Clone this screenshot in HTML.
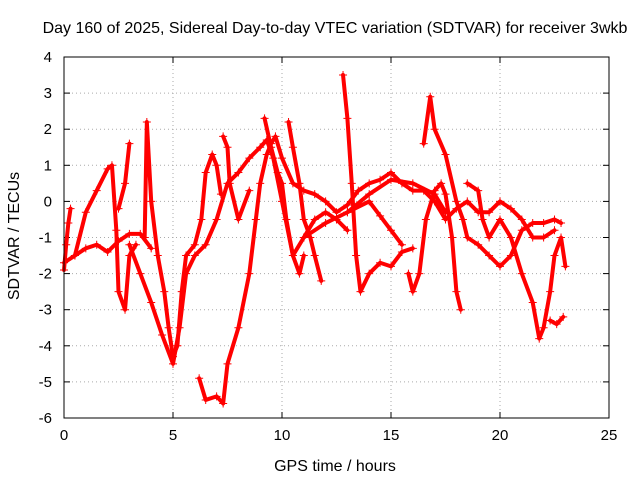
<!DOCTYPE html>
<html><head><meta charset="utf-8"><style>
body{margin:0;background:#fff;font-family:"Liberation Sans",sans-serif}
svg text{font-family:"Liberation Sans",sans-serif;font-size:15px;fill:#000}
svg text.big{font-size:16px}
</style></head><body>
<svg id="chart" width="640" height="480" xmlns="http://www.w3.org/2000/svg">
<text class="big" x="335" y="33" text-anchor="middle">Day 160 of 2025, Sidereal Day-to-day VTEC variation (SDTVAR) for receiver 3wkb</text>
<text class="big" x="335" y="471" text-anchor="middle">GPS time / hours</text>
<text class="big" transform="translate(19,236) rotate(-90)" text-anchor="middle">SDTVAR / TECUs</text>
<g id="grid"></g><g id="series"></g>
<rect x="64" y="57" width="545" height="361" fill="none" stroke="#000" stroke-width="1"/>
</svg>
<script>
const xTicks=[0,5,10,15,20,25];
const yTicks=[-6,-5,-4,-3,-2,-1,0,1,2,3,4];
const traceA=[[0,-1.9],[0.1,-1.2],[0.2,-0.6],[0.3,-0.2]];
const traceB=[[0,-1.7],[0.5,-1.5],[1,-1.3],[1.5,-1.2],[2,-1.4],[2.5,-1.1],[3,-0.9],[3.5,-0.9],[4,-1.3]];
const traceC=[[0.5,-1.5],[1,-0.3],[1.5,0.3],[2,0.9],[2.2,1],[2.4,-0.8],[2.5,-2.5],[2.8,-3],[3,-1.5],[3.3,-1.2]];
const traceD=[[2.5,-0.2],[2.8,0.5],[3,1.6]];
const traceE=[[3.7,-1],[3.8,2.2],[4,0],[4.3,-1.5],[4.6,-2.5],[4.8,-3.5],[5,-4.3],[5.2,-4],[5.4,-2.5],[5.6,-1.5],[6,-1.2],[6.3,-0.5],[6.5,0.8],[6.8,1.3],[7,1],[7.2,0.2]];
const traceF=[[3,-1.2],[3.5,-2],[4,-2.8],[4.5,-3.7],[5,-4.5],[5.3,-3.5],[5.6,-2],[6,-1.5],[6.5,-1.2],[7,-0.5],[7.5,0.5],[8,0.8],[8.5,1.2],[9,1.5],[9.3,1.7],[9.6,1.2],[10,0],[10.5,-1.5],[11,-1],[11.5,-0.5],[12,-0.3],[12.5,-0.5],[13,-0.8]];
const traceG=[[6.2,-4.9],[6.5,-5.5],[7,-5.4],[7.3,-5.6],[7.5,-4.5],[8,-3.5],[8.5,-2],[8.8,-0.5],[9,0.5],[9.3,1.3],[9.5,1.6],[9.7,1.8],[10,1.2],[10.5,0.5],[11,0.3],[11.5,0.2],[12,0],[12.5,-0.3],[13,-0.1],[13.5,0.3],[14,0.5],[14.5,0.6],[15,0.8],[15.5,0.5],[16,0.3],[16.5,0.3],[17,0],[17.5,-0.5],[18,-0.2],[18.5,0],[19,-0.3],[19.5,-0.3],[20,0],[20.5,-0.2],[21,-0.5],[21.5,-1],[22,-1],[22.5,-0.8]];
const traceH=[[9.2,2.3],[9.5,1.5],[9.8,0.8],[10,0.5],[10.2,-0.5],[10.5,-1.5],[10.8,-2],[11,-1.5]];
const traceI=[[10.3,2.2],[10.5,1.5],[10.8,0.5],[11,-0.5],[11.3,-1],[11.5,-1.5],[11.8,-2.2]];
const traceJ=[[12.8,3.5],[13,2.3],[13.2,0.5],[13.4,-1.5],[13.6,-2.5],[14,-2],[14.5,-1.7],[15,-1.8],[15.5,-1.4],[16,-1.3]];
const traceK=[[11,-1],[12,-0.6],[13,-0.3],[14,0],[14.5,-0.4],[15,-0.8],[15.5,-1.2]];
const traceL=[[13,-0.3],[14,0.2],[15,0.6],[16,0.5],[17,0.2],[17.5,-0.3]];
const traceM=[[15.8,-2],[16,-2.5],[16.3,-2],[16.6,-0.5],[17,0.3],[17.3,0.5],[17.5,0.2],[17.8,-1],[18,-2.5],[18.2,-3]];
const traceN=[[16.5,1.6],[16.8,2.9],[17,2],[17.5,1.3],[18,0],[18.3,-0.5],[18.5,-1],[19,-1.2],[19.5,-1.5],[20,-1.8],[20.5,-1.5],[21,-0.8],[21.5,-0.6],[22,-0.6],[22.5,-0.5],[22.8,-0.6]];
const traceO=[[18.5,0.5],[19,0.3],[19.2,-0.5],[19.5,-1],[20,-0.5],[20.5,-1],[21,-2],[21.5,-2.8],[21.8,-3.8],[22,-3.5],[22.3,-2.5],[22.5,-1.5],[22.8,-1],[23,-1.8]];
const traceP=[[22.3,-3.3],[22.6,-3.4],[22.9,-3.2]];
const traceQ=[[7.3,1.8],[7.5,1.5],[7.6,0.5],[8,-0.5],[8.5,0.3]];
const traces=[traceA,traceB,traceC,traceD,traceE,traceF,traceG,traceH,traceI,traceJ,traceK,traceL,traceM,traceN,traceO,traceP,traceQ];
const X0=64,X1=609,Y0=418,Y1=57;
const xs=v=>X0+(v-0)/(25-0)*(X1-X0);
const ys=v=>Y0-(v+6)/(4+6)*(Y0-Y1);
const NS="http://www.w3.org/2000/svg";
const grid=document.getElementById('grid'),ser=document.getElementById('series');
function mk(tag,at,p){const e=document.createElementNS(NS,tag);for(const k in at)e.setAttribute(k,at[k]);p.appendChild(e);return e;}
xTicks.forEach(t=>{const x=xs(t);
 const g=mk('line',{x1:x,x2:x,y1:Y1,y2:Y0,stroke:'#aaa','stroke-dasharray':'1,3'},grid);
 
 
 mk('line',{x1:x,x2:x,y1:Y0,y2:Y0-6,stroke:'#000'},grid);
 mk('line',{x1:x,x2:x,y1:Y1,y2:Y1+6,stroke:'#000'},grid);
 const l=mk('text',{x:x,y:Y0+22,'text-anchor':'middle'},grid);l.textContent=t;
 
 
});
yTicks.forEach(t=>{const y=ys(t);
 const g=mk('line',{x1:X0,x2:X1,y1:y,y2:y,stroke:'#aaa','stroke-dasharray':'1,3'},grid);
 
 
 mk('line',{x1:X0,x2:X0+6,y1:y,y2:y,stroke:'#000'},grid);
 mk('line',{x1:X1,x2:X1-6,y1:y,y2:y,stroke:'#000'},grid);
 const l=mk('text',{x:X0-12,y:y+5,'text-anchor':'end'},grid);l.textContent=t;
 
 
});
traces.forEach(tr=>{
 const pl=mk('polyline',{points:tr.map(p=>xs(p[0])+','+ys(p[1])).join(' '),fill:'none',stroke:'#f00','stroke-width':4,'stroke-linejoin':'round','stroke-linecap':'round'},ser);
 
 
 tr.forEach(p=>{const x=xs(p[0]),y=ys(p[1]);
  const m=mk('path',{d:`M${x-4},${y}H${x+4}M${x},${y-4}V${y+4}`,stroke:'#f00','stroke-width':1},ser);
  
  
 });
});
</script>
</body></html>
